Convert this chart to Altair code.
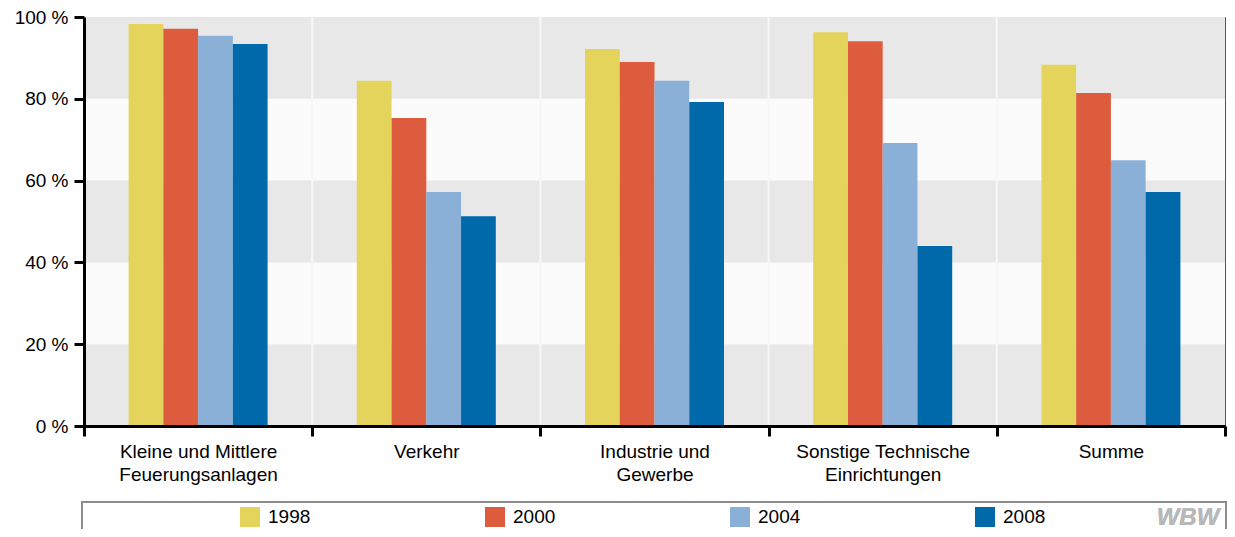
import altair as alt
import pandas as pd

categories = [
    "Kleine und Mittlere\nFeuerungsanlagen",
    "Verkehr",
    "Industrie und\nGewerbe",
    "Sonstige Technische\nEinrichtungen",
    "Summe",
]
years = ["1998", "2000", "2004", "2008"]
v1998 = [98.3, 84.4, 92.2, 96.3, 88.3]
v2000 = [97.1, 75.3, 89.0, 94.1, 81.4]
v2004 = [95.4, 57.2, 84.4, 69.2, 65.0]
v2008 = [93.4, 51.3, 79.2, 44.0, 57.2]
colors = ["#e4d45c", "#dd5c3e", "#8bb0d8", "#0069aa"]
band_lo = [0, 40, 80]
band_hi = [20, 60, 100]
y_ticks = [0, 20, 40, 60, 80, 100]

series = [v1998, v2000, v2004, v2008]
rows = []
for yr, vals in zip(years, series):
    for c, v in zip(categories, vals):
        rows.append({"cat": c, "year": yr, "value": v})
df = pd.DataFrame(rows)
bands_df = pd.DataFrame({"lo": band_lo, "hi": band_hi})
sep_df = pd.DataFrame({"cat": categories[1:]})

W, H = 1141, 409
STEP = W / len(categories)
GROUP = 139
yscale = alt.Scale(domain=[0, 100], nice=False)
xscale = alt.Scale(domain=categories, paddingInner=0, paddingOuter=0)

xaxis = alt.Axis(
    title=None,
    labelAngle=0,
    tickBand="extent",
    domainColor="black",
    domainWidth=3,
    tickColor="black",
    tickWidth=3,
    tickSize=10,
    labelFontSize=19,
    labelColor="black",
    labelFont="Liberation Sans",
    labelPadding=6,
    labelLineHeight=23,
    labelLimit=400,
    labelExpr="split(datum.label, '\\n')",
    grid=False,
    zindex=1,
)
yaxis = alt.Axis(
    values=y_ticks,
    title=None,
    labelExpr="datum.value + ' %'",
    domainColor="black",
    domainWidth=3,
    tickColor="black",
    tickWidth=3,
    tickSize=10,
    labelFontSize=19,
    labelColor="black",
    labelFont="Liberation Sans",
    labelPadding=6,
    grid=False,
    zindex=1,
)

bands = alt.Chart(bands_df).mark_rect(color="#e8e8e8").encode(
    y=alt.Y("lo:Q", scale=yscale, axis=yaxis),
    y2="hi:Q",
    x=alt.value(0),
    x2=alt.value(W),
)

seps = alt.Chart(sep_df).mark_rule(color="#f7f7f7", strokeWidth=2).encode(
    x=alt.X("cat:N", scale=xscale, bandPosition=0, axis=xaxis),
    y=alt.value(0),
    y2=alt.value(H),
)

bars = alt.Chart(df).mark_bar().encode(
    x=alt.X("cat:N", scale=xscale, sort=categories, axis=xaxis),
    xOffset=alt.XOffset(
        "year:N",
        sort=years,
        scale=alt.Scale(
            domain=years,
            range=[(STEP - GROUP) / 2, (STEP + GROUP) / 2],
            paddingInner=0,
            paddingOuter=0,
        ),
    ),
    y=alt.Y("value:Q", scale=yscale, axis=yaxis),
    color=alt.Color(
        "year:N",
        scale=alt.Scale(domain=years, range=colors),
        legend=alt.Legend(
            title=None,
            orient="none",
            legendX=156,
            legendY=490,
            direction="horizontal",
            symbolType="square",
            symbolSize=400,
            symbolStrokeWidth=0,
            symbolOpacity=1,
            labelFontSize=19,
            labelFont="Liberation Sans Narrow, Liberation Sans",
            labelColor="black",
            labelOffset=8,
            columnPadding=174,
        ),
    ),
)

legend_box = alt.Chart(bands_df).mark_rect(
    fillOpacity=0, stroke="#8a8a8a", strokeWidth=1.5
).encode(
    x=alt.value(-2),
    x2=alt.value(W + 1),
    y=alt.value(485),
    y2=alt.value(560),
)

logo = alt.Chart(bands_df).mark_text(
    text="WBW",
    fontSize=24,
    fontStyle="italic",
    fontWeight="bold",
    font="Liberation Sans Narrow, Liberation Sans",
    color="#b8b8b8",
    align="center",
    baseline="middle",
).encode(
    x=alt.value(1104),
    y=alt.value(501),
)

chart = (
    alt.layer(bands, seps, bars, legend_box, logo)
    .properties(
        width=W,
        height=H,
        autosize=alt.AutoSizeParams(type="none"),
        padding={"left": 76, "top": 9, "right": 2, "bottom": 103},
        background="white",
    )
    .configure_view(stroke="#555555", strokeWidth=1, fill="#fbfbfb")
)

chart.save("out.html", embed_options={"renderer": "svg", "actions": False})
